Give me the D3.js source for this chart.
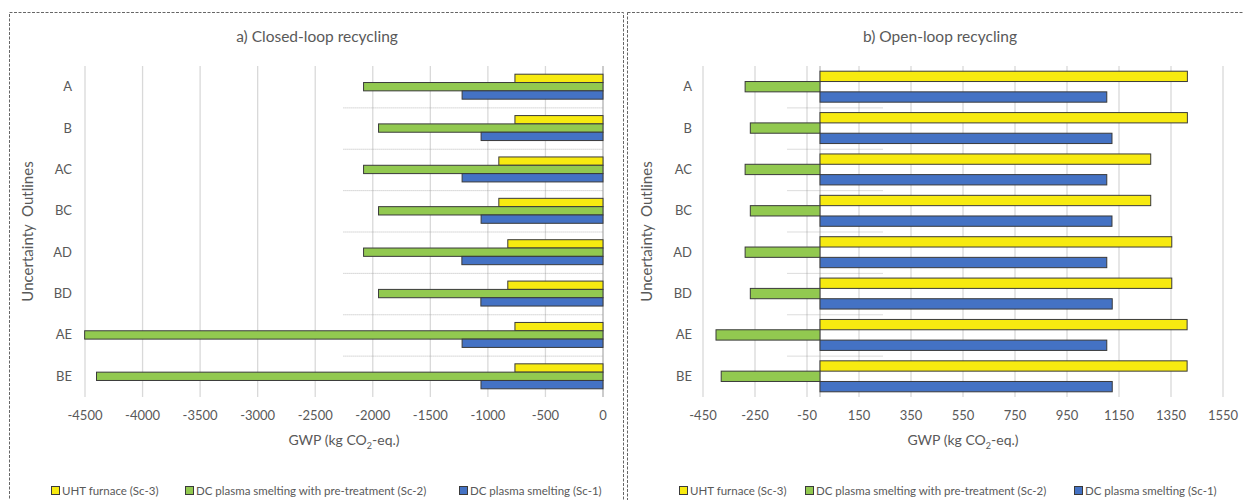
<!DOCTYPE html>
<html>
<head>
<meta charset="utf-8">
<script src="https://cdn.jsdelivr.net/npm/d3@7"></script>
<style>
  html, body { margin: 0; padding: 0; background: #fff; }
  svg { display: block; font-family: Lato, "Open Sans", sans-serif; }
</style>
</head>
<body>
<svg id="chart" width="1244" height="500"></svg>
<script>
// ---------- data ----------
const categories = ["A", "B", "AC", "BC", "AD", "BD", "AE", "BE"];
const seriesNames = ["UHT furnace (Sc-3)", "DC plasma smelting with pre-treatment (Sc-2)", "DC plasma smelting (Sc-1)"];
const seriesColors = ["#F7EA10", "#92C950", "#4472C4"];

const closedSc3 = [-765, -765, -905, -905, -827, -827, -765, -765];
const closedSc2 = [-2080, -1950, -2080, -1950, -2080, -1950, -4503, -4400];
const closedSc1 = [-1224, -1059, -1224, -1059, -1226, -1061, -1224, -1060];

const openSc3 = [1413, 1413, 1272, 1272, 1353, 1353, 1412, 1412];
const openSc2 = [-288, -268, -288, -268, -288, -268, -400, -380];
const openSc1 = [1103, 1123, 1103, 1123, 1103, 1124, 1103, 1124];

const closedTicks = [-4500, -4000, -3500, -3000, -2500, -2000, -1500, -1000, -500, 0];
const openTicks = [-450, -250, -50, 150, 350, 550, 750, 950, 1150, 1350, 1550];

const closedSeparator = [-2255, 0];
const openSeparator = [-125, 242];

const titles = ["a) Closed-loop recycling", "b) Open-loop recycling"];
const yTitle = "Uncertainty  Outlines";

// ---------- drawing ----------
const svg = d3.select("#chart");
const textColor = "#595959";

const panels = [
  {
    frame: [9.5, 12.5, 614, 520],
    x0: 85, x1: 603, domain: [-4500, 0], ticks: closedTicks,
    series: [closedSc3, closedSc2, closedSc1],
    sep: closedSeparator, barPad: 8.2,
    title: titles[0], titleX: 317, labelX: 72, yTitleX: 33,
    legendX: [51, 185, 459]
  },
  {
    frame: [627.5, 12.5, 640, 520],
    x0: 703, x1: 1223, domain: [-450, 1550], ticks: openTicks,
    series: [openSc3, openSc2, openSc1],
    sep: openSeparator, barPad: 5.2,
    title: titles[1], titleX: 940, labelX: 692, yTitleX: 652,
    legendX: [679, 805, 1074]
  }
];

const yTop = 66, yBottom = 397;

panels.forEach(p => {
  const g = svg.append("g");

  // frame
  g.append("rect")
    .attr("x", p.frame[0]).attr("y", p.frame[1])
    .attr("width", p.frame[2]).attr("height", p.frame[3])
    .attr("fill", "none").attr("stroke", "#666")
    .attr("stroke-width", 1).attr("stroke-dasharray", "3,1.5");

  const x = d3.scaleLinear().domain(p.domain).range([p.x0, p.x1]);
  const y = d3.scaleBand().domain(categories).range([yTop, yBottom]).paddingInner(0).paddingOuter(0);
  const ys = d3.scaleBand().domain(d3.range(seriesNames.length))
    .range([p.barPad, y.bandwidth() - p.barPad]).padding(0);

  // gridlines
  g.append("g").selectAll("line").data(p.ticks).join("line")
    .attr("x1", d => x(d)).attr("x2", d => x(d))
    .attr("y1", yTop).attr("y2", yBottom)
    .attr("stroke", "#D9D9D9").attr("stroke-width", 1.3);

  // zero axis line
  g.append("line")
    .attr("x1", x(0)).attr("x2", x(0)).attr("y1", yTop).attr("y2", yBottom)
    .attr("stroke", "#BFBFBF").attr("stroke-width", 1.3);

  // separators between categories
  g.append("g").selectAll("line").data(categories.slice(1)).join("line")
    .attr("x1", x(p.sep[0])).attr("x2", x(p.sep[1]))
    .attr("y1", d => y(d) + 0.5).attr("y2", d => y(d) + 0.5)
    .attr("stroke", "#8c8c8c").attr("stroke-width", 0.6)
    .attr("stroke-dasharray", "1,1");

  // bars
  p.series.forEach((vals, si) => {
    g.append("g").selectAll("rect").data(vals).join("rect")
      .attr("x", d => Math.min(x(0), x(d)))
      .attr("width", d => Math.abs(x(d) - x(0)))
      .attr("y", (d, i) => y(categories[i]) + ys(si))
      .attr("height", ys.bandwidth())
      .attr("fill", seriesColors[si])
      .attr("stroke", "#3a3a3a").attr("stroke-width", 1);
  });

  // x tick labels
  g.append("g").selectAll("text").data(p.ticks).join("text")
    .attr("x", d => x(d)).attr("y", 420)
    .attr("text-anchor", "middle")
    .attr("font-size", 13).attr("fill", textColor)
    .text(d => d);

  // category labels
  g.append("g").selectAll("text").data(categories).join("text")
    .attr("x", p.labelX).attr("y", d => y(d) + y.bandwidth() / 2 + 4.5)
    .attr("text-anchor", "end")
    .attr("font-size", 13).attr("fill", textColor)
    .text(d => d);

  // title
  g.append("text")
    .attr("x", p.titleX).attr("y", 42)
    .attr("text-anchor", "middle")
    .attr("font-size", 15.5).attr("fill", textColor)
    .text(p.title);

  // x axis title
  const xt = g.append("text")
    .attr("x", (p.x0 + p.x1) / 2).attr("y", 445)
    .attr("text-anchor", "middle")
    .attr("font-size", 14).attr("fill", textColor);
  xt.append("tspan").text("GWP (kg CO");
  xt.append("tspan").attr("font-size", 9).attr("dy", 4).text("2");
  xt.append("tspan").attr("dy", -4).text("-eq.)");

  // y axis title
  g.append("text")
    .attr("transform", `translate(${p.yTitleX},${(yTop + yBottom) / 2}) rotate(-90)`)
    .attr("text-anchor", "middle")
    .attr("font-size", 15).attr("fill", textColor)
    .attr("xml:space", "preserve")
    .style("white-space", "pre")
    .text(yTitle);

  // legend
  const lg = g.append("g").selectAll("g").data(seriesNames).join("g")
    .attr("transform", (d, i) => `translate(${p.legendX[i]},491)`);
  lg.append("rect")
    .attr("x", 0.5).attr("y", -4.5).attr("width", 8).attr("height", 8)
    .attr("fill", (d, i) => seriesColors[i])
    .attr("stroke", "#3a3a3a").attr("stroke-width", 1);
  lg.append("text")
    .attr("x", 11).attr("y", 4)
    .attr("font-size", 11.5).attr("fill", textColor)
    .text(d => d);
});
</script>
</body>
</html>
